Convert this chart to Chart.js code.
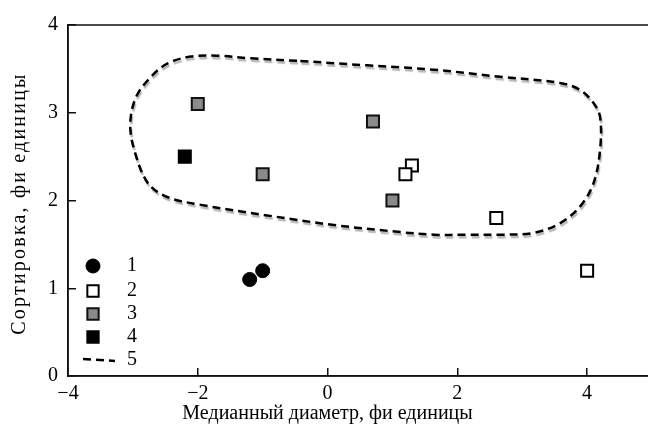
<!DOCTYPE html>
<html>
<head>
<meta charset="utf-8">
<script src="https://cdn.jsdelivr.net/npm/chart.js@4/dist/chart.umd.min.js"></script>
<style>
  html, body { margin: 0; padding: 0; background: #fff; overflow: hidden; }
  #wrap { width: 648px; height: 431px; overflow: hidden; }
</style>
</head>
<body>
<div id="wrap"><canvas id="sortChart" width="652" height="431"></canvas></div>
<script>
// group 1 - black circles
const group1X = [-1.2, -1.0];
const group1Y = [1.1, 1.2];
// group 2 - open squares
const group2X = [1.3, 1.2, 2.6, 4.0];
const group2Y = [2.4, 2.3, 1.8, 1.2];
// group 3 - grey squares
const group3X = [-2.0, 0.7, -1.0, 1.0];
const group3Y = [3.1, 2.9, 2.3, 2.0];
// group 4 - black square
const group4X = [-2.2];
const group4Y = [2.5];
// 5 - dashed outline
const outlineX = [-0.42, 0.61, 1.64, 2.66, 3.58, 3.89, 4.10, 4.2, 4.2, 4.10, 3.89, 3.58, 3.17, 2.66, 2.15, 1.64, 1.12, 0.10, -0.93, -1.95, -2.47, -2.77, -2.98, -3.04, -2.95, -2.72, -2.47, -2.11, -1.70, -1.18, -0.42];
const outlineY = [3.59, 3.54, 3.49, 3.41, 3.34, 3.26, 3.11, 2.95, 2.58, 2.20, 1.93, 1.74, 1.63, 1.61, 1.61, 1.61, 1.64, 1.72, 1.83, 1.95, 2.04, 2.20, 2.58, 2.88, 3.18, 3.41, 3.56, 3.64, 3.65, 3.62, 3.59];

const legendLabels = ["1", "2", "3", "4", "5"];
const xTitle = "Медианный диаметр, фи единицы";
const yTitle = "Сортировка, фи единицы";

const serif = "'Liberation Serif', 'DejaVu Serif', serif";

function pts(xs, ys) {
  return xs.map((x, i) => ({ x: x, y: ys[i] }));
}

function minus(v) {
  return v < 0 ? "\u2212" + Math.abs(v) : String(v);
}

// frame around the plot
const framePlugin = {
  id: "frame",
  beforeDatasetsDraw(chart) {
    const a = chart.chartArea;
    const ctx = chart.ctx;
    ctx.save();
    ctx.strokeStyle = "#111";
    ctx.lineWidth = 1.5;
    ctx.strokeRect(a.left, a.top, a.right - a.left, a.bottom - a.top);
    ctx.restore();
  }
};

// grey shadow under the dashed outline
const shadowPlugin = {
  id: "outlineShadow",
  beforeDatasetDraw(chart, args) {
    if (args.index !== 4) return;
    const ctx = chart.ctx;
    ctx.save();
    ctx.shadowColor = "rgba(150,150,150,0.7)";
    ctx.shadowOffsetX = 1;
    ctx.shadowOffsetY = 2.5;
    ctx.shadowBlur = 1;
  },
  afterDatasetDraw(chart, args) {
    if (args.index !== 4) return;
    chart.ctx.restore();
  }
};

// axis titles: y one spaced out a little, x one centred under the zero tick
const titlesPlugin = {
  id: "axisTitles",
  afterDraw(chart) {
    const a = chart.chartArea;
    const ctx = chart.ctx;
    ctx.save();
    ctx.font = "20px " + serif;
    ctx.fillStyle = "#000";
    ctx.textAlign = "center";
    ctx.textBaseline = "middle";
    ctx.fillText(xTitle, chart.scales.x.getPixelForValue(0), 414);
    ctx.translate(20, (a.top + a.bottom) / 2 + 3);
    ctx.rotate(-Math.PI / 2);
    ctx.letterSpacing = "2.2px";
    ctx.fillText(yTitle, 0, 0);
    ctx.restore();
  }
};

// legend inside the plot, bottom left
const insideLegend = {
  id: "insideLegend",
  afterDraw(chart) {
    const ctx = chart.ctx;
    const xs = chart.scales.x;
    const markX = xs.left + 25;
    const textX = xs.left + 59;
    const rowY = [266, 291, 314, 337, 360];
    ctx.save();
    chart.data.datasets.forEach((ds, i) => {
      const y = rowY[i];
      if (ds.showLine) {
        ctx.save();
        ctx.strokeStyle = ds.borderColor;
        ctx.lineWidth = ds.borderWidth;
        ctx.setLineDash(ds.borderDash);
        ctx.beginPath();
        ctx.moveTo(markX - 10, y - 1);
        ctx.lineTo(markX + 22, y + 1);
        ctx.stroke();
        ctx.restore();
      } else {
        ctx.fillStyle = ds.backgroundColor;
        ctx.strokeStyle = ds.borderColor;
        ctx.lineWidth = ds.borderWidth;
        Chart.helpers.drawPoint(ctx, {
          pointStyle: ds.pointStyle,
          rotation: 0,
          radius: ds.pointStyle === "rect" ? ds.pointRadius - 0.5 : ds.pointRadius,
          borderWidth: ds.borderWidth
        }, markX, y);
      }
      ctx.fillStyle = "#000";
      ctx.font = "20px " + serif;
      ctx.textBaseline = "middle";
      ctx.textAlign = "left";
      ctx.fillText(ds.label, textX, y);
    });
    ctx.restore();
  }
};

const ctx = document.getElementById("sortChart");

const chart = new Chart(ctx, {
  type: "scatter",
  data: {
    datasets: [
      {
        label: legendLabels[0],
        data: pts(group1X, group1Y),
        pointStyle: "circle",
        pointRadius: 7,
        backgroundColor: "#000",
        borderColor: "#000",
        borderWidth: 1
      },
      {
        label: legendLabels[1],
        data: pts(group2X, group2Y),
        pointStyle: "rect",
        pointRadius: 8.5,
        backgroundColor: "#fff",
        borderColor: "#000",
        borderWidth: 2
      },
      {
        label: legendLabels[2],
        data: pts(group3X, group3Y),
        pointStyle: "rect",
        pointRadius: 8.5,
        backgroundColor: "#8a8a8a",
        borderColor: "#111",
        borderWidth: 2
      },
      {
        label: legendLabels[3],
        data: pts(group4X, group4Y),
        pointStyle: "rect",
        pointRadius: 8.5,
        backgroundColor: "#000",
        borderColor: "#000",
        borderWidth: 2
      },
      {
        label: legendLabels[4],
        data: pts(outlineX, outlineY),
        showLine: true,
        tension: 0.35,
        pointRadius: 0,
        borderColor: "#000",
        borderWidth: 2.5,
        borderDash: [8, 5],
        backgroundColor: "#000",
        fill: false
      }
    ]
  },
  options: {
    responsive: false,
    animation: false,
    layout: { autoPadding: false, padding: { top: 25, right: 0, left: 0, bottom: 0 } },
    plugins: {
      legend: { display: false },
      tooltip: { enabled: false }
    },
    scales: {
      x: {
        type: "linear",
        min: -4,
        max: 5,
        afterFit: s => { s.height = 55; s.paddingRight = 0; s.paddingLeft = 0; },
        border: { color: "#111", width: 1.5 },
        grid: { drawOnChartArea: false, drawTicks: true, tickLength: -8, color: "#111", lineWidth: 1.5 },
        ticks: {
          stepSize: 2,
          includeBounds: false,
          padding: 14,
          color: "#000",
          font: { family: serif, size: 20 },
          callback: v => minus(v)
        },
        title: { display: false }
      },
      y: {
        type: "linear",
        min: 0,
        max: 4,
        afterFit: s => { s.width = 68; s.paddingTop = 0; s.paddingBottom = 0; },
        border: { color: "#111", width: 1.5 },
        grid: { drawOnChartArea: false, drawTicks: true, tickLength: -8, color: "#111", lineWidth: 1.5 },
        ticks: {
          stepSize: 1,
          padding: 18,
          color: "#000",
          font: { family: serif, size: 20 },
          callback: v => minus(v)
        },
        title: { display: false }
      }
    }
  },
  plugins: [framePlugin, shadowPlugin, titlesPlugin, insideLegend]
});
</script>
</body>
</html>
